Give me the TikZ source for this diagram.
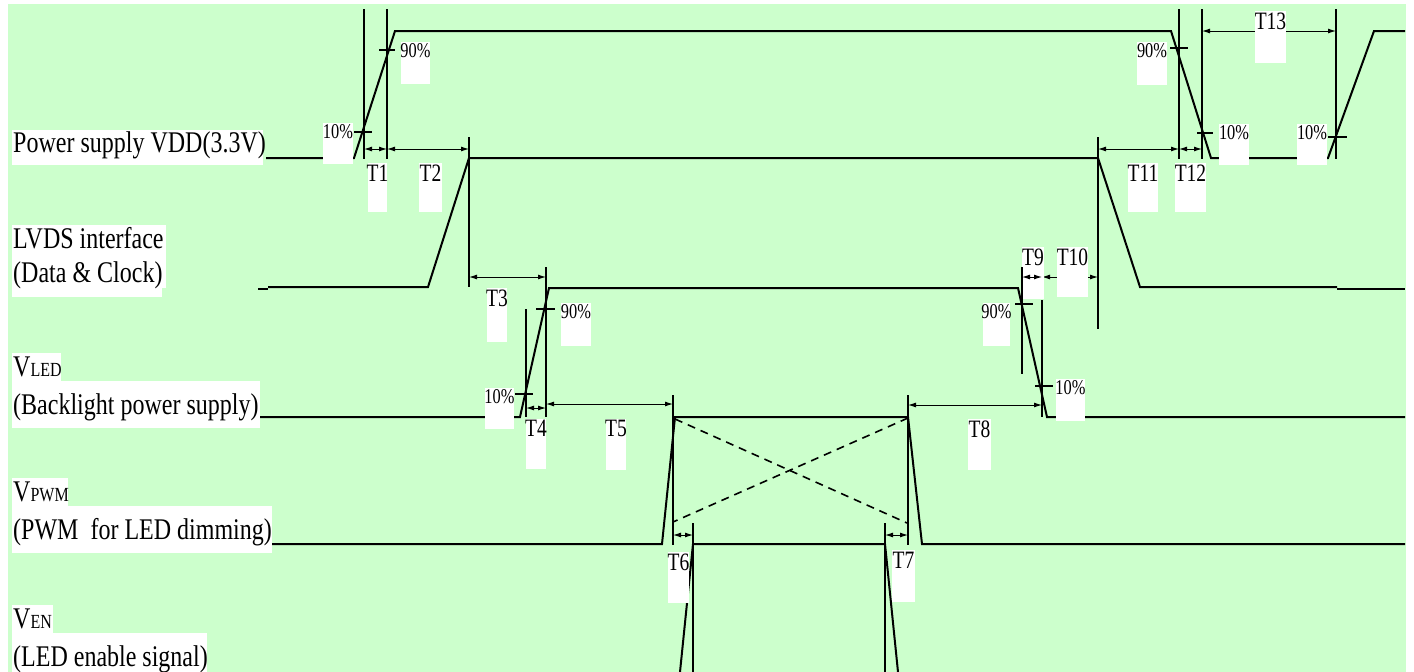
\documentclass[tikz,border=0pt]{standalone}
\usepackage{fontspec}
\setmainfont{Liberation Serif}
\usepackage{graphicx}
\usetikzlibrary{arrows.meta}
\definecolor{bggreen}{RGB}{204,255,204}
\newcommand{\mlab}[1]{\scalebox{0.8}[1]{\fontsize{30}{36}\selectfont #1}}
\newcommand{\msub}[1]{{\fontsize{20}{24}\selectfont #1}}
\newcommand{\tlab}[1]{\scalebox{0.78}[1]{\fontsize{25}{28}\selectfont #1}}
\newcommand{\plab}[1]{\scalebox{0.78}[1]{\fontsize{21}{24}\selectfont #1}}
\tikzset{
  sig/.style={line width=2pt},
  refline/.style={line width=1.1pt},
  tick/.style={line width=1.1pt},
  dimarrow/.style={line width=1pt,{Latex[length=8pt,width=5pt]}-{Latex[length=8pt,width=5pt]}},
  dashline/.style={line width=1.6pt,dash pattern=on 8pt off 6pt},
  mainlabel/.style={anchor=base west,inner sep=0pt},
  boxlabel/.style={anchor=base,inner sep=0pt},
}
% #1 name, #2 x1, #3 y1, #4 x2, #5 y2, #6 offset, #7 text
\newcommand{\wlabel}[7]{%
  \fill[white] (#2,#3) rectangle (#4,#5);
  \node[boxlabel] (#1) at ({(#2+#4)/2},{#3+#6}) {#7};}
\begin{document}
\begin{tikzpicture}[x=1pt,y=-1pt]
\useasboundingbox (0,0) rectangle (1414,672);
\fill[white] (0,0) rectangle (1414,672);
\fill[bggreen] (8,4) rectangle (1406,672);

% ---------- signals ----------
\draw[sig] (266,158) -- (354,158) -- (395,31) -- (1171,31) -- (1211,158) -- (1328,158) -- (1374,31) -- (1405,31);
\draw[sig] (258,288.5) -- (268,288.5);
\draw[sig] (268,287) -- (428,287) -- (469,158) -- (1098,158) -- (1140,287) -- (1337,287);
\draw[sig] (1337,289) -- (1405,289);
\draw[sig] (260,417) -- (520,417) -- (549,288) -- (1018,288) -- (1047,417) -- (1405,417);
\draw[sig] (272,544) -- (662,544) -- (675,417) -- (908,417) -- (922,544) -- (1405,544);
\draw[sig] (680,672) -- (693,544) -- (885,544) -- (898,672);

% ---------- dashed cross ----------
\draw[dashline] (675,419) -- (907,523);
\draw[dashline] (908,418) -- (673,522);

% ---------- reference lines ----------
\draw[refline] (364,9) -- (364,159);
\draw[refline] (387,9) -- (387,159);
\draw[refline] (469,137) -- (469,287);
\draw[refline] (546,267) -- (546,417);
\draw[refline] (526,309) -- (526,417);
\draw[refline] (673,395) -- (673,545);
\draw[refline] (693,523) -- (693,672);
\draw[refline] (885,523) -- (885,672);
\draw[refline] (908,395) -- (908,545);
\draw[refline] (1042,300) -- (1042,417);
\draw[refline] (1098,137) -- (1098,329);
\draw[refline] (1179,9) -- (1179,159);
\draw[refline] (1202,9) -- (1202,159);
\draw[refline] (1336,9) -- (1336,159);

% ---------- 10% / 90% ticks ----------
\draw[tick] (354,132) -- (372,132);
\draw[tick] (379,50) -- (395,50);
\draw[tick] (536,309) -- (555,309);
\draw[tick] (515,394) -- (533,394);
\draw[tick] (1015,304) -- (1033,304);
\draw[tick] (1035,386) -- (1053,386);
\draw[tick] (1170,48) -- (1188,48);
\draw[tick] (1197,133) -- (1213,133);
\draw[tick] (1328,137) -- (1347,137);

% ---------- dimension arrow ends ----------
\coordinate (t1a) at (364,149);  \coordinate (t1b) at (387,149);
\coordinate (t2b) at (469,149);
\coordinate (t3a) at (469,277);  \coordinate (t3b) at (546,277);
\coordinate (t4a) at (526,408);  \coordinate (t4b) at (546,408);
\coordinate (t5a) at (546,404);  \coordinate (t5b) at (673,404);
\coordinate (t6a) at (673,535);  \coordinate (t6b) at (693,535);
\coordinate (t7a) at (885,535);  \coordinate (t7b) at (908,535);
\coordinate (t8a) at (908,405);  \coordinate (t8b) at (1042,405);
\coordinate (t9a) at (1022,277); \coordinate (t9b) at (1042,277);
\coordinate (t10b) at (1098,277);
\coordinate (t11a) at (1098,149); \coordinate (t11b) at (1179,149);
\coordinate (t12b) at (1202,149);
\coordinate (t13a) at (1202,31); \coordinate (t13b) at (1336,31);

\draw[dimarrow] (t1a) -- (t1b);
\draw[dimarrow] (t1b) -- (t2b);
\draw[dimarrow] (t3a) -- (t3b);
\draw[dimarrow] (t4a) -- (t4b);
\draw[dimarrow] (t5a) -- (t5b);
\draw[dimarrow] (t6a) -- (t6b);
\draw[dimarrow] (t7a) -- (t7b);
\draw[dimarrow] (t8a) -- (t8b);
\draw[dimarrow] (t9b) -- (t10b);
\draw[dimarrow] (t11a) -- (t11b);
\draw[dimarrow] (t11b) -- (t12b);
\draw[dimarrow] (t13a) -- (t13b);

% ---------- signal names ----------
\fill[white] (12,130) rectangle (263,165);
\node[mainlabel] (lvdd) at (13,152) {\mlab{Power supply VDD(3.3V)}};
\fill[white] (12,225) rectangle (166,288);
\fill[white] (12,288) rectangle (162,297);
\node[mainlabel] (llvds1) at (13,248) {\mlab{LVDS interface}};
\node[mainlabel] (llvds2) at (13,282) {\mlab{(Data \& Clock)}};
\fill[white] (12,353) rectangle (61,381);
\fill[white] (12,381) rectangle (260,428);
\node[mainlabel] (lvled1) at (13,376) {\mlab{V\msub{LED}}};
\node[mainlabel] (lvled2) at (13,414) {\mlab{(Backlight power supply)}};
\fill[white] (12,478) rectangle (68,506);
\fill[white] (12,506) rectangle (272,553);
\node[mainlabel] (lpwm1) at (13,501) {\mlab{V\msub{PWM}}};
\node[mainlabel] (lpwm2) at (13,539) {\mlab{(PWM\ \ for LED dimming)}};
\fill[white] (12,605) rectangle (53,633);
\fill[white] (12,633) rectangle (207,672);
\node[mainlabel] (len1) at (13,628) {\mlab{V\msub{EN}}};
\node[mainlabel] (len2) at (13,666) {\mlab{(LED enable signal)}};

% ---------- percent labels ----------
\wlabel{p1}{323}{123}{353}{164}{15}{\plab{10\%}}
\wlabel{p2}{401}{42}{430}{84}{15}{\plab{90\%}}
\wlabel{p3}{561}{303}{591}{346}{15}{\plab{90\%}}
\wlabel{p4}{485}{388}{514}{429}{15}{\plab{10\%}}
\wlabel{p5}{983}{303}{1010}{346}{15}{\plab{90\%}}
\wlabel{p6}{1056}{379}{1085}{421}{15}{\plab{10\%}}
\wlabel{p7}{1137}{42}{1167}{85}{15}{\plab{90\%}}
\wlabel{p8}{1219}{124}{1249}{165}{15}{\plab{10\%}}
\wlabel{p9}{1297}{124}{1327}{165}{15}{\plab{10\%}}

% ---------- timing labels ----------
\wlabel{lt1}{368}{163}{387}{212}{18}{\tlab{T1}}
\wlabel{lt2}{419}{163}{442}{212}{18}{\tlab{T2}}
\wlabel{lt3}{487}{288}{507}{342}{18}{\tlab{T3}}
\wlabel{lt4}{526}{418.5}{546}{469}{18}{\tlab{T4}}
\wlabel{lt5}{606}{418.5}{626}{470}{18}{\tlab{T5}}
\wlabel{lt6}{668}{552}{689}{603}{18}{\tlab{T6}}
\wlabel{lt7}{892}{550}{915}{602}{18}{\tlab{T7}}
\wlabel{lt8}{968}{419}{991}{470}{18}{\tlab{T8}}
\wlabel{lt9}{1022}{247}{1044}{299}{18}{\tlab{T9}}
\wlabel{lt10}{1057}{247}{1088}{297}{18}{\tlab{T10}}
\wlabel{lt11}{1128}{163}{1158}{212}{18}{\tlab{T11}}
\wlabel{lt12}{1175}{163}{1206}{212}{18}{\tlab{T12}}
\wlabel{lt13}{1255}{11}{1286}{63}{18}{\tlab{T13}}

% items drawn over the T9 box
\draw[refline] (1022,267) -- (1022,374);
\draw[dimarrow] (t9a) -- (t9b);
\end{tikzpicture}
\end{document}
